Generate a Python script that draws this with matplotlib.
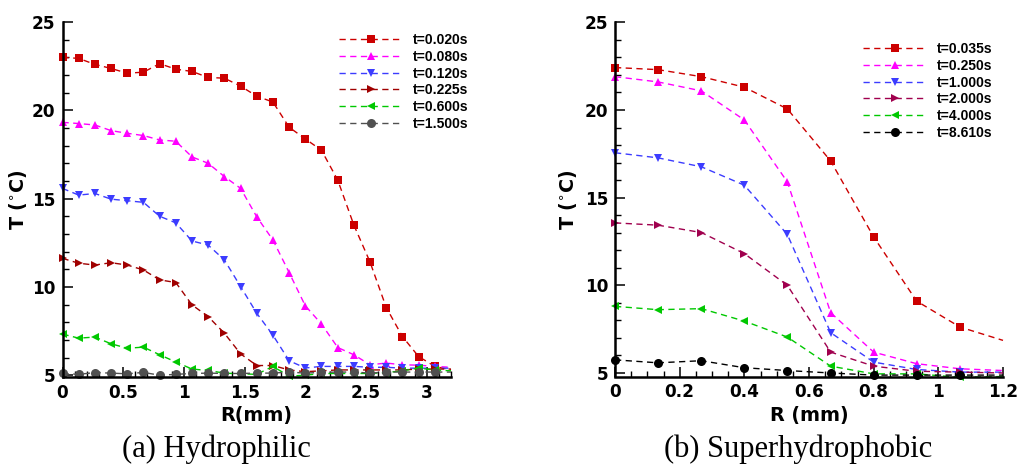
import matplotlib
matplotlib.use("Agg")
import matplotlib.pyplot as plt
from matplotlib.ticker import MultipleLocator

# ---------------- data ----------------
R_left = [0.0, 0.133, 0.267, 0.4, 0.533, 0.667, 0.8, 0.933, 1.067, 1.2, 1.333, 1.467,
          1.6, 1.733, 1.867, 2.0, 2.133, 2.267, 2.4, 2.533, 2.667, 2.8, 2.933, 3.067, 3.2]
labels_left = ["t=0.020s", "t=0.080s", "t=0.120s", "t=0.225s", "t=0.600s", "t=1.500s"]
T_left_020 = [23.0, 22.94, 22.6, 22.37, 22.1, 22.16, 22.64, 22.33, 22.2, 21.86, 21.82, 21.37,
              20.8, 20.47, 19.04, 18.38, 17.74, 16.05, 13.5, 11.41, 8.83, 7.19, 6.06, 5.5, 5.3]
T_left_080 = [19.32, 19.25, 19.17, 18.85, 18.7, 18.57, 18.32, 18.25, 17.36, 17.0, 16.25, 15.58,
              13.97, 12.66, 10.81, 8.93, 7.9, 6.57, 6.16, 5.59, 5.69, 5.59, 5.57, 5.5, 5.45]
T_left_120 = [15.58, 15.2, 15.29, 14.97, 14.88, 14.79, 14.0, 13.63, 12.6, 12.37, 11.53, 10.02,
              8.51, 7.27, 5.82, 5.41, 5.5, 5.5, 5.5, 5.45, 5.45, 5.4, 5.4, 5.4, 5.4]
T_left_225 = [11.62, 11.34, 11.24, 11.37, 11.24, 10.96, 10.4, 10.25, 8.98, 8.32, 7.38, 6.21,
              5.55, 5.55, 5.3, 5.2, 5.25, 5.3, 5.3, 5.3, 5.3, 5.3, 5.35, 5.35, 5.35]
T_left_600 = [7.33, 7.1, 7.16, 6.78, 6.53, 6.59, 6.16, 5.75, 5.35, 5.27, 5.12, 5.08,
              5.05, 5.5, 4.95, 5.0, 5.1, 5.1, 5.1, 5.1, 5.15, 5.25, 5.4, 5.3, 5.25]
T_left_1500 = [5.1, 5.05, 5.15, 5.12, 5.08, 5.16, 5.0, 5.05, 5.1, 5.12, 5.1, 5.1,
               5.12, 5.12, 5.18, 5.12, 5.16, 5.18, 5.18, 5.12, 5.18, 5.18, 5.18, 5.18, 5.18]

R_right = [0.0, 0.133, 0.267, 0.4, 0.533, 0.667, 0.8, 0.933, 1.067, 1.2]
labels_right = ["t=0.035s", "t=0.250s", "t=1.000s", "t=2.000s", "t=4.000s", "t=8.610s"]
T_right_0035 = [22.42, 22.3, 21.9, 21.3, 20.06, 17.09, 12.76, 9.1, 7.62, 6.86]
T_right_0250 = [21.9, 21.6, 21.09, 19.43, 15.9, 8.44, 6.19, 5.53, 5.24, 5.14]
T_right_1000 = [17.56, 17.27, 16.76, 15.71, 12.9, 7.3, 5.62, 5.2, 5.05, 5.05]
T_right_2000 = [13.56, 13.43, 13.01, 11.81, 10.0, 6.19, 5.39, 5.1, 5.05, 5.0]
T_right_4000 = [8.8, 8.61, 8.67, 7.96, 7.05, 5.39, 4.95, 4.95, 4.75, 4.8]
T_right_8610 = [5.75, 5.58, 5.7, 5.3, 5.14, 5.0, 4.88, 4.88, 4.88, 4.88]

# ---------------- styles ----------------
left_series = [T_left_020, T_left_080, T_left_120, T_left_225, T_left_600, T_left_1500]
left_colors = ["#CC0000", "#FF00FF", "#3C3CFF", "#A00000", "#00C800", "#505050"]
right_series = [T_right_0035, T_right_0250, T_right_1000, T_right_2000, T_right_4000, T_right_8610]
right_colors = ["#CC0000", "#FF00FF", "#3C3CFF", "#A0004E", "#00C800", "#000000"]
markers = ["s", "^", "v", ">", "<", "o"]
msizes = [6, 6.3, 6.3, 6.3, 6.3, 6.5]

W, H = 1022, 466
fig = plt.figure(figsize=(W / 100, H / 100), dpi=100)

tick_font = {"family": "DejaVu Sans", "weight": "bold", "size": 12.2}
label_font = {"family": "DejaVu Sans", "weight": "bold", "size": 13.8}
legend_font = {"family": "Liberation Sans", "weight": "bold", "size": 10}


def px_axes(x0, x1, ytop, ybot):
    return fig.add_axes([x0 / W, 1 - ybot / H, (x1 - x0) / W, (ybot - ytop) / H])


def style_axes(ax, xmaj, xmin_, xlabel):
    for s in ["top", "right"]:
        ax.spines[s].set_visible(False)
    for s in ["left", "bottom"]:
        ax.spines[s].set_linewidth(1.8)
    ax.yaxis.set_major_locator(MultipleLocator(5))
    ax.yaxis.set_minor_locator(MultipleLocator(1))
    ax.xaxis.set_major_locator(MultipleLocator(xmaj))
    ax.xaxis.set_minor_locator(MultipleLocator(xmin_))
    ax.tick_params(which="major", direction="in", length=7, width=1.1, pad=5)
    ax.tick_params(which="minor", direction="in", length=4, width=1.0)
    ax.tick_params(top=False, right=False, which="both")
    for lab in ax.get_xticklabels() + ax.get_yticklabels():
        lab.set_fontproperties(matplotlib.font_manager.FontProperties(**tick_font))
    ax.set_xlabel(xlabel, fontdict=label_font, labelpad=3)
    ax.set_ylabel(r"T ($^{\circ}$C)", fontdict=label_font, labelpad=4)


def draw(ax, R, series, colors, labels):
    n = len(R)
    for T, c, m, ms, lab in zip(series, colors, markers, msizes, labels):
        ax.plot(R, T, color=c, lw=1.0, linestyle=(0, (4.5, 3.2)), marker=m, ms=ms,
                markevery=list(range(n - 1)), markeredgewidth=0, clip_on=False,
                label=lab)


# ---------------- left panel ----------------
axL = px_axes(62.5, 451, 22, 377)
draw(axL, R_left, left_series, left_colors, labels_left)
axL.set_xlim(0, 3.2)
axL.set_ylim(4.9, 25)
style_axes(axL, 0.5, 0.1, "R(mm)")
axL.set_xticks([0, 0.5, 1, 1.5, 2, 2.5, 3])
axL.set_xticklabels(["0", "0.5", "1", "1.5", "2", "2.5", "3"], fontdict=tick_font)
axL.yaxis.set_label_coords(-33 / 388.5, 0.5)

axL.legend(loc="upper left", bbox_to_anchor=(339 / W, 1 - 33 / H),
           bbox_transform=fig.transFigure, frameon=False, borderpad=0,
           borderaxespad=0, handlelength=4.6, handletextpad=0.7,
           labelspacing=0.2, numpoints=1, prop=legend_font)

# ---------------- right panel ----------------
axR = px_axes(615, 1003, 22.3, 376.5)
draw(axR, R_right, right_series, right_colors, labels_right)
axR.set_xlim(0, 1.2)
axR.set_ylim(4.8, 25)
style_axes(axR, 0.2, 0.05, "R (mm)")
axR.set_xticks([0, 0.2, 0.4, 0.6, 0.8, 1.0, 1.2])
axR.set_xticklabels(["0", "0.2", "0.4", "0.6", "0.8", "1", "1.2"], fontdict=tick_font)
axR.yaxis.set_label_coords(-36 / 388, 0.5)

axR.legend(loc="upper left", bbox_to_anchor=(863 / W, 1 - 42 / H),
           bbox_transform=fig.transFigure, frameon=False, borderpad=0,
           borderaxespad=0, handlelength=4.6, handletextpad=0.7,
           labelspacing=0.2, numpoints=1, prop=legend_font)

# ---------------- captions ----------------
fig.text(216.7 / W, 1 - 449 / H, "(a) Hydrophilic", ha="center", va="center",
         family="Liberation Serif", size=22)
fig.text(798 / W, 1 - 449 / H, "(b) Superhydrophobic", ha="center", va="center",
         family="Liberation Serif", size=22)

fig.savefig("out.png", dpi=100)
